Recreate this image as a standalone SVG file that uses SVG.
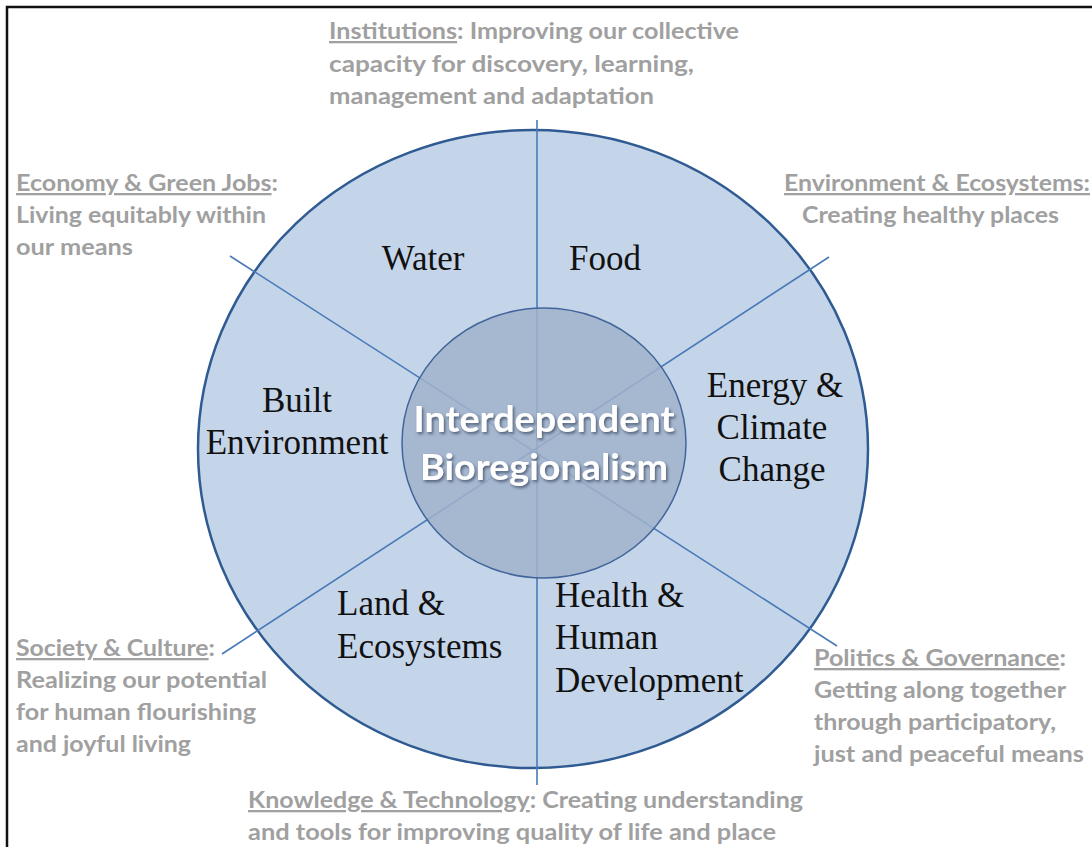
<svg xmlns="http://www.w3.org/2000/svg" width="1092" height="847" viewBox="0 0 1092 847">
  <defs>
    <style>
      .frame { fill: none; stroke: #111; stroke-width: 2.5; }
      .outer { fill: #c5d5e9; stroke: #2f5b92; stroke-width: 2.5; }
      .inner { fill: #a0b2cb; stroke: #41659a; stroke-width: 1.5; }
      .spoke { stroke: #4a7ab8; stroke-width: 1.6; fill: none; }
      .sector { font-family: "Liberation Serif", "Times New Roman", serif; font-size: 35px; fill: #111; }
      .note { font-family: Lato, "Open Sans", sans-serif; font-weight: 700; font-size: 23px; fill: #a0a0a0; }
      .u { text-decoration: underline; }
      .hub { font-family: Lato, "Open Sans", sans-serif; font-weight: 700; font-size: 36px; fill: #ffffff; text-anchor: middle; filter: url(#hubShadow); }
    </style>
    <filter id="hubShadow" x="-10%" y="-30%" width="120%" height="160%">
      <feDropShadow dx="1.5" dy="2" stdDeviation="1.5" flood-color="#3a4a60" flood-opacity="0.8"/>
    </filter>
  </defs>

  <rect width="1092" height="847" fill="#ffffff"/>
  <!-- frame: top and left edges -->
  <path class="frame" d="M7 847 V7 H1092"/>

  <!-- outer ring -->
  <g id="ring">
    <ellipse class="outer" cx="533" cy="449" rx="335" ry="319"/>
  </g>

  <!-- spokes -->
  <g id="connectors">
    <line class="spoke" x1="537" y1="120" x2="537" y2="785"/>
    <line class="spoke" x1="230" y1="256" x2="837" y2="646"/>
    <line class="spoke" x1="829" y1="257" x2="222" y2="654"/>
  </g>

  <!-- hub -->
  <g id="hub">
    <ellipse class="inner" cx="544" cy="443" rx="142" ry="135" fill-opacity="0.85"/>
    <text class="hub" x="544" y="432" textLength="261" lengthAdjust="spacingAndGlyphs">Interdependent</text>
    <text class="hub" x="544" y="480" textLength="248" lengthAdjust="spacingAndGlyphs">Bioregionalism</text>
  </g>

  <!-- sectors -->
  <g id="sector-water"><text class="sector" x="423" y="270" text-anchor="middle">Water</text></g>
  <g id="sector-food"><text class="sector" x="605" y="270" text-anchor="middle">Food</text></g>
  <g id="sector-built">
    <text class="sector" x="297" y="412" text-anchor="middle">Built</text>
    <text class="sector" x="297" y="454" text-anchor="middle">Environment</text>
  </g>
  <g id="sector-energy">
    <text class="sector" x="775" y="397" text-anchor="middle">Energy &amp;</text>
    <text class="sector" x="772" y="439" text-anchor="middle">Climate</text>
    <text class="sector" x="772" y="481" text-anchor="middle">Change</text>
  </g>
  <g id="sector-land">
    <text class="sector" x="337" y="615">Land &amp;</text>
    <text class="sector" x="337" y="658">Ecosystems</text>
  </g>
  <g id="sector-health">
    <text class="sector" x="555" y="607">Health &amp;</text>
    <text class="sector" x="555" y="649">Human</text>
    <text class="sector" x="555" y="692">Development</text>
  </g>

  <!-- outer notes -->
  <g id="note-institutions">
    <text class="note" x="329" y="39" textLength="410" lengthAdjust="spacingAndGlyphs"><tspan class="u">Institutions</tspan>: Improving our collective</text>
    <text class="note" x="329" y="72" textLength="365" lengthAdjust="spacingAndGlyphs">capacity for discovery, learning,</text>
    <text class="note" x="329" y="104" textLength="325" lengthAdjust="spacingAndGlyphs">management and adaptation</text>
  </g>
  <g id="note-economy">
    <text class="note" x="16" y="191" textLength="262" lengthAdjust="spacingAndGlyphs"><tspan class="u">Economy &amp; Green Jobs</tspan>:</text>
    <text class="note" x="16" y="223" textLength="250" lengthAdjust="spacingAndGlyphs">Living equitably within</text>
    <text class="note" x="16" y="255" textLength="117" lengthAdjust="spacingAndGlyphs">our means</text>
  </g>
  <g id="note-environment">
    <text class="note" x="784" y="191" textLength="306" lengthAdjust="spacingAndGlyphs"><tspan class="u">Environment &amp; Ecosystems:</tspan></text>
    <text class="note" x="802" y="223" textLength="257" lengthAdjust="spacingAndGlyphs">Creating healthy places</text>
  </g>
  <g id="note-society">
    <text class="note" x="16" y="656" textLength="199" lengthAdjust="spacingAndGlyphs"><tspan class="u">Society &amp; Culture</tspan>:</text>
    <text class="note" x="16" y="688" textLength="251" lengthAdjust="spacingAndGlyphs">Realizing our potential</text>
    <text class="note" x="16" y="720" textLength="240" lengthAdjust="spacingAndGlyphs">for human flourishing</text>
    <text class="note" x="16" y="752" textLength="175" lengthAdjust="spacingAndGlyphs">and joyful living</text>
  </g>
  <g id="note-politics">
    <text class="note" x="814" y="666" textLength="252" lengthAdjust="spacingAndGlyphs"><tspan class="u">Politics &amp; Governance</tspan>:</text>
    <text class="note" x="814" y="698" textLength="252" lengthAdjust="spacingAndGlyphs">Getting along together</text>
    <text class="note" x="814" y="730" textLength="242" lengthAdjust="spacingAndGlyphs">through participatory,</text>
    <text class="note" x="814" y="762" textLength="270" lengthAdjust="spacingAndGlyphs">just and peaceful means</text>
  </g>
  <g id="note-knowledge">
    <text class="note" x="248" y="808" textLength="555" lengthAdjust="spacingAndGlyphs"><tspan class="u">Knowledge &amp; Technology</tspan>: Creating understanding</text>
    <text class="note" x="248" y="840" textLength="528" lengthAdjust="spacingAndGlyphs">and tools for improving quality of life and place</text>
  </g>
</svg>
